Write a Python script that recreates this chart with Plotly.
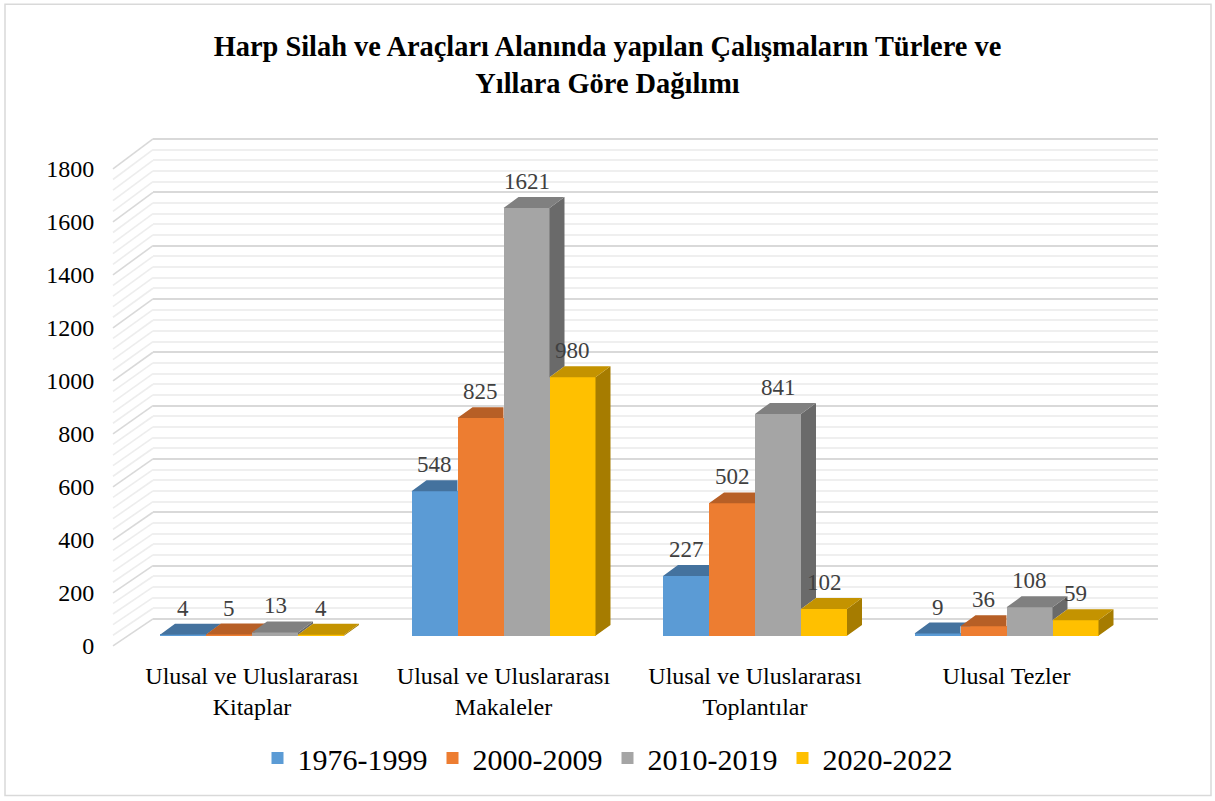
import plotly.graph_objects as go

# ---------------- data ----------------
categories = ["Ulusal ve Uluslararası<br>Kitaplar",
              "Ulusal ve Uluslararası<br>Makaleler",
              "Ulusal ve Uluslararası<br>Toplantılar",
              "Ulusal Tezler"]
series_names = ["1976-1999", "2000-2009", "2010-2019", "2020-2022"]
v_1976_1999 = [4, 548, 227, 9]
v_2000_2009 = [5, 825, 502, 36]
v_2010_2019 = [13, 1621, 841, 108]
v_2020_2022 = [4, 980, 102, 59]
series_values = [v_1976_1999, v_2000_2009, v_2010_2019, v_2020_2022]
y_ticks = list(range(0, 1801, 200))
y_minor = [v for v in range(0, 1801, 40) if v % 200]
title_text = ("Harp Silah ve Araçları Alanında yapılan Çalışmaların Türlere ve"
              "<br>Yıllara Göre Dağılımı")

# ---------------- styles ----------------
front_colors = ["#5B9BD5", "#ED7D31", "#A5A5A5", "#FFC000"]
top_colors = ["#44729E", "#B75F26", "#808080", "#C49300"]
side_colors = ["#3A6389", "#A0521F", "#6A6A6A", "#A67C00"]
FONT = "Liberation Serif, Times New Roman, serif"

W, H = 1215, 801
PL, PR, PT, PB = 113, 1160, 120, 660          # plot area in pixels
PW, PH = PR - PL, PB - PT

def yrange(px_zero, px_per_unit):
    lo = -(PB - px_zero) / px_per_unit
    return [lo, lo + PH / px_per_unit]

FRONT_PPU, FRONT_ZERO = 0.2645, 637           # bars' front plane
LAB_PPU, LAB_ZERO = 478 / 1800, 647           # front edge of side wall
WALL_PPU, WALL_ZERO = 481 / 1800, 620         # back wall
GROUP_PX, GROUP0_PX = 251.5, 252
x_lo = -(GROUP0_PX - PL) / GROUP_PX
x_hi = x_lo + PW / GROUP_PX

BAR_W = 46 / GROUP_PX
DX = 15 / GROUP_PX                             # depth offset (x units)
DY = 11 / FRONT_PPU                            # depth offset (y units)
offsets = [(-1.5 + k) * BAR_W for k in range(4)]

fig = go.Figure()

# wall subplot (grid) - needs a (empty) trace
fig.add_trace(go.Scatter(x=[], y=[], xaxis="x", yaxis="y", showlegend=False, hoverinfo="skip"))

# front faces as real bars
for k, (name, vals) in enumerate(zip(series_names, series_values)):
    fig.add_trace(go.Bar(
        x=[i + offsets[k] for i in range(len(categories))], y=vals, width=BAR_W,
        name=name, marker=dict(color=front_colors[k], line=dict(width=0)),
        xaxis="x2", yaxis="y2", hovertemplate=name + ": %{y}<extra></extra>"))

# 3D side and top faces
for k, vals in enumerate(series_values):
    sx, sy, tx, ty = [], [], [], []
    for i, v in enumerate(vals):
        x0 = i + offsets[k] - BAR_W / 2
        x1 = x0 + BAR_W
        nxt = series_values[k + 1][i] if k < 3 else None
        # side face (visible part only)
        low = 0 if nxt is None else nxt
        if v > low:
            sx += [x1, x1, x1 + DX, x1 + DX, x1, None]
            sy += [low, v, v + DY, low + DY, low, None]
        # top face (minus region covered by next bar's front)
        if nxt is None or nxt <= v:
            px = [x0, x1, x1 + DX, x0 + DX, x0]
            py = [v, v, v + DY, v + DY, v]
        elif nxt >= v + DY:
            px = [x0, x1, x1, x0 + DX, x0]
            py = [v, v, v + DY, v + DY, v]
        else:
            xc = x1 + (nxt - v) / DY * DX
            px = [x0, x1, x1, xc, x1 + DX, x0 + DX, x0]
            py = [v, v, nxt, nxt, v + DY, v + DY, v]
        tx += px + [None]
        ty += py + [None]
    fig.add_trace(go.Scatter(x=sx, y=sy, fill="toself", fillcolor=side_colors[k], mode="lines",
                             line=dict(width=0), xaxis="x2", yaxis="y2",
                             showlegend=False, hoverinfo="skip"))
    fig.add_trace(go.Scatter(x=tx, y=ty, fill="toself", fillcolor=top_colors[k], mode="lines",
                             line=dict(width=0), xaxis="x2", yaxis="y2",
                             showlegend=False, hoverinfo="skip"))

# empty trace for the tick-label axis
fig.add_trace(go.Scatter(x=[], y=[], xaxis="x2", yaxis="y3", showlegend=False, hoverinfo="skip"))

# data labels
annotations = []
for k, vals in enumerate(series_values):
    for i, v in enumerate(vals):
        annotations.append(dict(x=i + offsets[k], y=v + DY, xref="x2", yref="y2",
                                text=str(v), showarrow=False, yanchor="bottom", yshift=1,
                                font=dict(family=FONT, size=23, color="#404040")))

# side-wall diagonals (from front edge to back wall) for every grid value
shapes = []
for v in sorted(y_ticks + y_minor):
    major = v in y_ticks
    yf = (PB - (LAB_ZERO - LAB_PPU * v)) / PH
    yb = (PB - (WALL_ZERO - WALL_PPU * v)) / PH
    shapes.append(dict(type="line", xref="paper", yref="paper", x0=0, x1=40 / PW,
                       y0=yf, y1=yb, layer="below",
                       line=dict(color="#D9D9D9" if major else "#EDEDED", width=1.6)))
# chart border
shapes.append(dict(type="rect", xref="paper", yref="paper",
                   x0=(5 - PL) / PW, x1=(1211 - PL) / PW,
                   y0=(PB - 797) / PH, y1=(PB - 4) / PH,
                   line=dict(color="#D9D9D9", width=1.5), layer="below"))

fig.update_layout(
    width=W, height=H,
    margin=dict(l=PL, r=W - PR, t=PT, b=H - PB),
    paper_bgcolor="white", plot_bgcolor="rgba(0,0,0,0)",
    barmode="overlay", bargap=0,
    title=dict(text=title_text, x=0.5, xref="container", xanchor="center",
               y=1 - 56 / H, yref="container", yanchor="top",
               font=dict(family=FONT, size=28.4, color="black", weight="bold")),
    font=dict(family=FONT, color="black"),
    xaxis=dict(domain=[40 / PW, (1158 - PL) / PW], range=[0, 1], showgrid=False,
               showticklabels=False, zeroline=False, showline=False, fixedrange=True),
    yaxis=dict(anchor="x", range=yrange(WALL_ZERO, WALL_PPU), tickmode="array", tickvals=y_ticks,
               showticklabels=False, showgrid=True, gridcolor="#D9D9D9", gridwidth=2,
               zeroline=False, showline=False,
               minor=dict(tickmode="array", tickvals=y_minor, showgrid=True,
                          gridcolor="#EFEFEF", gridwidth=2)),
    xaxis2=dict(domain=[0, 1], anchor="y2", range=[x_lo, x_hi], tickmode="array",
                tickvals=list(range(len(categories))), ticktext=categories,
                showgrid=False, zeroline=False, showline=False, ticks="",
                tickfont=dict(family=FONT, size=24, color="black")),
    yaxis2=dict(anchor="x2", range=yrange(FRONT_ZERO, FRONT_PPU), visible=False),
    yaxis3=dict(anchor="x2", overlaying="y2", side="left", range=yrange(LAB_ZERO, LAB_PPU),
                tickmode="array", tickvals=y_ticks, showgrid=False, zeroline=False,
                showline=False, ticks="outside", ticklen=13, tickcolor="rgba(0,0,0,0)",
                tickfont=dict(family=FONT, size=24, color="black")),
    legend=dict(orientation="h", x=0.5, xref="container", xanchor="center",
                y=1 - 758 / H, yref="container", yanchor="middle",
                font=dict(family=FONT, size=30, color="black"), traceorder="normal"),
    annotations=annotations, shapes=shapes, showlegend=True,
)

fig.write_html("out.html", config={"displayModeBar": False},
               post_script="document.body.style.margin='0px';")
